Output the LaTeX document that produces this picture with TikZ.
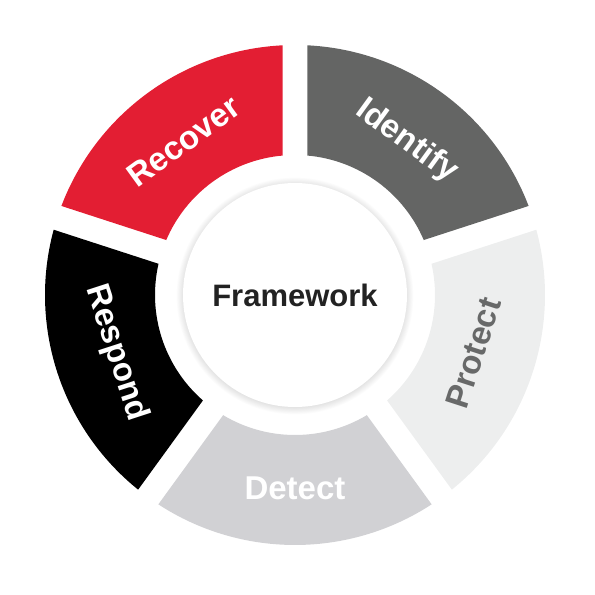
\documentclass[tikz,border=0pt]{standalone}
\usepackage{fontspec}
\setmainfont{Liberation Sans}
\definecolor{recred}{HTML}{E31E33}
\definecolor{idgray}{HTML}{646564}
\definecolor{protfill}{HTML}{EDEEEE}
\definecolor{prottxt}{HTML}{686969}
\definecolor{detfill}{HTML}{D1D1D4}
\definecolor{resblack}{HTML}{000000}
\definecolor{frametxt}{HTML}{222222}
\tikzset{
  lab/.style={font=\fontsize{33}{38}\selectfont\bfseries, inner sep=0pt, text=white},
  hub/.style={circle, fill=white, minimum size=224pt, inner sep=0pt,
    font=\fontsize{31}{36}\selectfont\bfseries, text=frametxt}
}
\newcommand\ringseg[2]{%
  \fill[#2] ({#1+\dO}:\Ro) arc[start angle={#1+\dO}, end angle={#1+72-\dO}, radius=\Ro]
    -- ({#1+72-\dI}:\Ri) arc[start angle={#1+72-\dI}, end angle={#1+\dI}, radius=\Ri] -- cycle;}
\begin{document}
\begin{tikzpicture}[x=1pt,y=1pt]
\useasboundingbox (-295,-300) rectangle (300,295);
\def\Ro{250}
\def\Ri{140}
\def\hg{12.5}
\pgfmathsetmacro\dO{asin(\hg/\Ro)}
\pgfmathsetmacro\dI{asin(\hg/\Ri)}
% segments
\ringseg{18}{idgray}
\ringseg{90}{recred}
\ringseg{162}{resblack}
\ringseg{234}{detfill}
\ringseg{-54}{protfill}
% soft shadow of the hub
\foreach \i in {0,...,8}{
  \fill[black, opacity=0.012] (0,-1) circle ({112+\i*0.8});
}
\node[hub] (hub) at (0,0) {Framework};
% labels
\node[lab, rotate=36] (recover) at (126:190) {Recover};
\node[lab, rotate=-36] (identify) at (54:190) {Identify};
\node[lab, rotate=72, text=prottxt] (protect) at (-18:188) {Protect};
\node[lab] (detect) at (-90:193) {Detect};
\node[lab, rotate=-72] (respond) at (198:188) {Respond};
\end{tikzpicture}
\end{document}
